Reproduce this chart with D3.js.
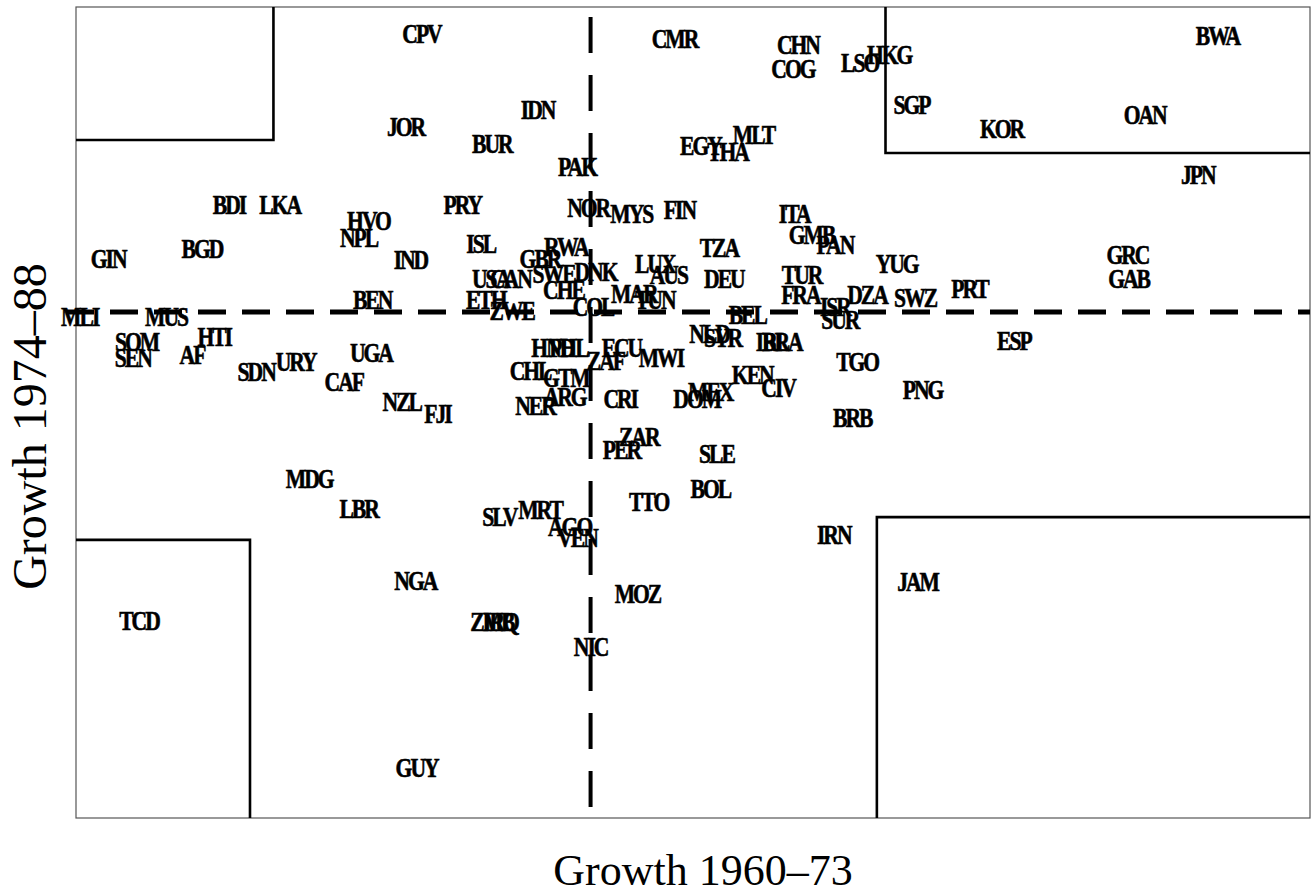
<!DOCTYPE html>
<html>
<head>
<meta charset="utf-8">
<script src="https://cdn.jsdelivr.net/npm/d3@7"></script>
<style>
  body { margin: 0; background: #fff; }
  .lab { font-family: "Liberation Serif", "Times New Roman", serif; font-weight: bold; font-size: 27px; letter-spacing: -2.5px; stroke: #000; stroke-width: 0.6px; }
  .title { font-family: "Liberation Serif", "Times New Roman", serif; font-size: 44px; }
</style>
</head>
<body>
<svg id="chart" width="1313" height="896"></svg>
<script>
// country codes and growth rates
const codes = ["CPV","CMR","CHN","COG","LSO","HKG","BWA","IDN","JOR","BUR","PAK","EGY","THA","MLT","SGP","KOR","OAN","JPN",
  "BDI","LKA","PRY","NOR","MYS","FIN","ITA","HVO","NPL","GMB","PAN","GIN","BGD","IND","ISL","GBR","RWA","TZA","YUG","GRC","GAB",
  "USA","CAN","SWE","DNK","LUX","AUS","DEU","TUR","PRT","BEN","ETH","ZWE","CHE","COL","MAR","TUN","FRA","DZA","SWZ",
  "MLI","MUS","BEL","ISR","SUR","ESP","SOM","SEN","HTI","AF","UGA","HND","PHL","ECU","NLD","SYR","IRL","BRA",
  "SDN","URY","CHL","ZAF","MWI","TGO","CAF","GTM","KEN","CIV","PNG","NZL","FJI","NER","ARG","CRI","DOM","MEX","BRB",
  "ZAR","PER","SLE","MDG","BOL","LBR","SLV","MRT","TTO","AGO","VEN","IRN","NGA","JAM","MOZ","TCD","ZMB","IRQ","NIC","GUY"];
const growth6073 = [1.30,3.35,4.35,4.31,4.85,5.09,7.75,2.24,1.17,1.87,2.56,3.56,3.78,3.99,5.27,6.00,7.16,7.59,
  -0.26,0.15,1.63,2.65,3.00,3.39,4.32,0.87,0.79,4.46,4.65,-1.24,-0.48,1.21,1.78,2.26,2.47,3.71,5.15,7.02,7.03,
  1.86,2.02,2.37,2.71,3.19,3.30,3.75,4.38,5.74,0.90,1.82,2.03,2.45,2.69,3.02,3.19,4.37,4.91,5.30,
  -1.47,-0.77,3.94,4.65,4.69,6.10,-1.01,-1.04,-0.38,-0.56,0.89,2.36,2.49,2.92,3.63,3.74,4.14,4.22,
  -0.04,0.28,2.18,2.79,3.24,4.83,0.67,2.47,3.98,4.19,5.36,1.14,1.43,2.22,2.46,2.91,3.53,3.64,4.79,
  3.06,2.92,3.69,0.39,3.64,0.79,1.93,2.26,3.14,2.50,2.56,4.64,1.25,5.32,3.05,-0.99,1.87,1.94,2.67,1.26];
const growth7488 = [4.67,4.61,4.53,4.24,4.31,4.41,4.65,3.73,3.52,3.31,3.03,3.29,3.21,3.43,3.80,3.50,3.67,2.93,
  2.56,2.56,2.56,2.53,2.45,2.50,2.45,2.36,2.16,2.19,2.07,1.89,2.02,1.88,2.08,1.89,2.04,2.03,1.83,1.94,1.65,
  1.65,1.65,1.71,1.73,1.83,1.70,1.65,1.70,1.52,1.39,1.39,1.26,1.51,1.30,1.46,1.39,1.45,1.45,1.42,
  1.18,1.18,1.20,1.30,1.14,0.89,0.87,0.68,0.93,0.71,0.73,0.80,0.80,0.80,0.97,0.92,0.87,0.87,
  0.50,0.62,0.51,0.64,0.68,0.62,0.38,0.43,0.46,0.31,0.28,0.13,-0.02,0.08,0.19,0.17,0.17,0.25,-0.06,
  -0.30,-0.46,-0.51,-0.82,-0.94,-1.19,-1.29,-1.20,-1.10,-1.41,-1.54,-1.51,-2.08,-2.09,-2.24,-2.57,-2.58,-2.58,-2.89,-4.38];

// sample means (dashed lines) and corner-box cut-offs
const meanX = 2.67, meanY = 1.24;
const boxX = [0.10, 5.06, -0.09, 4.99];   // top-left, top-right, bottom-left, bottom-right
const boxY = [3.36, 3.20, -1.57, -1.29];

const svg = d3.select("#chart");
const margin = {left: 76, right: 3, top: 7, bottom: 78};
const W = +svg.attr("width"), H = +svg.attr("height");

const x = d3.scaleLinear().domain([-1.5, 8.5]).range([margin.left, W - margin.right]);
const y = d3.scaleLinear().domain([-5, 5]).range([H - margin.bottom, margin.top]);

const [x0, x1] = x.range();
const [yb, yt] = y.range();

svg.append("rect").attr("width", W).attr("height", H).attr("fill", "#fff");

// frame
svg.append("rect")
  .attr("x", x0).attr("y", yt).attr("width", x1 - x0).attr("height", yb - yt)
  .attr("fill", "none").attr("stroke", "#555").attr("stroke-width", 1.2);

// corner boxes
const line = d3.line();
const boxes = [
  [[x(boxX[0]), yt], [x(boxX[0]), y(boxY[0])], [x0, y(boxY[0])]],
  [[x(boxX[1]), yt], [x(boxX[1]), y(boxY[1])], [x1, y(boxY[1])]],
  [[x0, y(boxY[2])], [x(boxX[2]), y(boxY[2])], [x(boxX[2]), yb]],
  [[x1, y(boxY[3])], [x(boxX[3]), y(boxY[3])], [x(boxX[3]), yb]]
];
svg.selectAll(".box").data(boxes).enter().append("path")
  .attr("class", "box")
  .attr("d", line).attr("fill", "none").attr("stroke", "#000").attr("stroke-width", 2.6);

// mean lines
svg.append("line")
  .attr("x1", x(meanX)).attr("x2", x(meanX)).attr("y1", yt + 10).attr("y2", yb)
  .attr("stroke", "#000").attr("stroke-width", 4).attr("stroke-dasharray", "36,22");
svg.append("line")
  .attr("x1", x0 - 10).attr("x2", x1).attr("y1", y(meanY)).attr("y2", y(meanY))
  .attr("stroke", "#000").attr("stroke-width", 5).attr("stroke-dasharray", "28,16");

// country labels, squeezed sideways like the printed ones
svg.selectAll(".lab").data(codes).enter().append("text")
  .attr("class", "lab")
  .attr("transform", (d, i) => `translate(${x(growth6073[i])},${y(growth7488[i])}) scale(0.8,1)`)
  .attr("dy", "0.34em")
  .attr("text-anchor", "middle")
  .text(d => d);

// axis titles
svg.append("text").attr("class", "title")
  .attr("x", (x0 + x1) / 2 + 10).attr("y", 885)
  .attr("text-anchor", "middle")
  .text("Growth 1960–73");
svg.append("text").attr("class", "title")
  .style("font-size", "48px")
  .attr("transform", `translate(46, ${(yt + yb) / 2 + 14}) rotate(-90)`)
  .attr("text-anchor", "middle")
  .text("Growth 1974–88");
</script>
</body>
</html>
